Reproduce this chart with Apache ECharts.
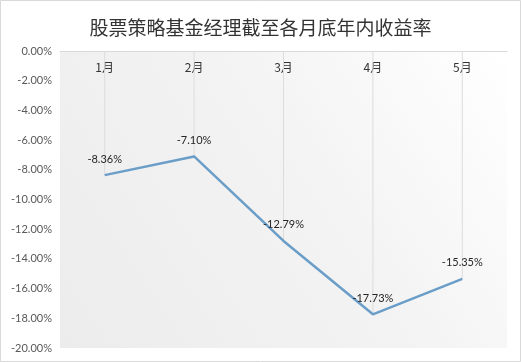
<!DOCTYPE html>
<html><head><meta charset="utf-8">
<script src="https://cdn.jsdelivr.net/npm/echarts@6/dist/echarts.min.js"></script>
<style>html,body{margin:0;padding:0;background:#fff}#c{width:521px;height:362px}</style>
</head><body><div id="c"></div>
<script>
var title = '股票策略基金经理截至各月底年内收益率';
var categories = ['1月','2月','3月','4月','5月'];
var returns = [-8.36, -7.10, -12.79, -17.73, -15.35];
var yMin = -20, yMax = 0, yStep = 2;

var chart = echarts.init(document.getElementById('c'));
chart.setOption({
  animation: false,
  backgroundColor: '#ffffff',
  title: {text: title, left: 'center', top: 13,
    textStyle: {fontFamily: 'Noto Sans CJK SC', fontSize: 19, fontWeight: 'normal', color: '#333333'}},
  grid: {left: 60, right: 14, top: 51, bottom: 14, show: true, borderWidth: 0,
    backgroundColor: {type: 'linear', x: 0, y: 1, x2: 1, y2: 0,
      colorStops: [{offset: 0, color: '#ececec'}, {offset: 0.55, color: '#f3f3f3'}, {offset: 1, color: '#ffffff'}]}},
  xAxis: {type: 'category', data: categories, position: 'top',
    axisLine: {show: true, onZero: false, lineStyle: {color: '#d9d9d9'}},
    axisTick: {show: false},
    axisLabel: {inside: true, margin: 10, color: '#333333', fontSize: 12, fontFamily: 'Noto Sans CJK SC'},
    splitLine: {show: false}},
  yAxis: {type: 'value', min: yMin, max: yMax, interval: yStep,
    axisLine: {show: false}, axisTick: {show: false}, splitLine: {show: false},
    axisLabel: {margin: 8, color: '#595959', fontSize: 11, fontFamily: 'Lato',
      formatter: function (v) { return v.toFixed(2) + '%'; }}},
  series: [
    {type: 'bar', data: returns, barWidth: 1, silent: true,
      itemStyle: {color: '#dcdcdc'}, label: {show: false}},
    {type: 'line', data: returns, symbol: 'circle', symbolSize: 1, showSymbol: true, z: 5,
      itemStyle: {color: 'rgba(0,0,0,0)'},
      lineStyle: {color: '#6a9dc8', width: 2.5},
      label: {show: true, position: 'top', distance: 10, color: '#262626', fontSize: 11, fontFamily: 'Lato',
        formatter: function (p) { return p.value.toFixed(2) + '%'; }}}
  ],
  graphic: [{type: 'rect', shape: {x: 0.5, y: 0.5, width: 520, height: 361},
    style: {fill: 'none', stroke: '#d9d9d9', lineWidth: 1}, silent: true}]
});
</script></body></html>
